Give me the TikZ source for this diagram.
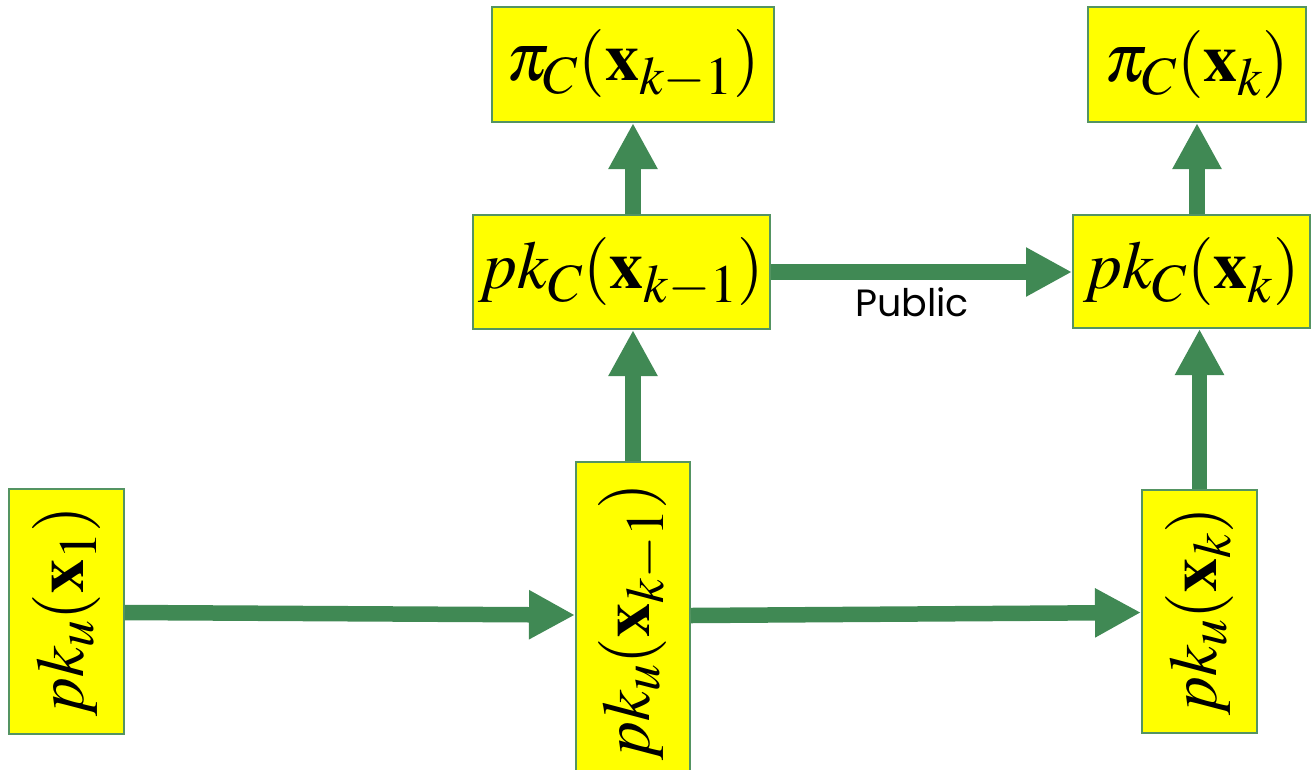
\documentclass[tikz,border=0pt]{standalone}
\usepackage{mathptmx}
\usepackage{fontspec}
\newfontfamily\labelfont{Poppins}
\usetikzlibrary{arrows.meta,calc}

% large key labels with generous subscripts
\DeclareMathSizes{68}{68}{54}{44}

\definecolor{flowgreen}{RGB}{64,137,84}
\definecolor{edgegreen}{RGB}{84,148,98}
\definecolor{boxyellow}{RGB}{255,255,0}

\begin{document}
\begin{tikzpicture}[x=1pt,y=-1pt,
  keybox/.style={draw=edgegreen, line width=2pt, fill=boxyellow, inner sep=0pt,
    font=\fontsize{68}{76}\selectfont},
  flow/.style={draw=flowgreen, line width=15.5pt,
    -{Triangle[width=46pt,length=46pt]}},
  tag/.style={font=\labelfont\fontsize{38}{42}\selectfont}]
  \useasboundingbox (0,0) rectangle (1311,769);

  % top row: projections
  \node[keybox, minimum width=282pt, minimum height=115pt] (A) at (633,64.5)
    {$\pi_C(\mathbf{x}_{k-1})$};
  \node[keybox, minimum width=218pt, minimum height=115pt] (B) at (1197,64.5)
    {$\pi_C(\mathbf{x}_{k})$};

  % middle row: public keys of C
  \node[keybox, minimum width=297pt, minimum height=114pt] (C) at (621.5,272)
    {$pk_C(\mathbf{x}_{k-1})$};
  \node[keybox, minimum width=237pt, minimum height=113pt] (D) at (1191.5,271.5)
    {$pk_C(\mathbf{x}_{k})$};

  % bottom row: user keys, set vertically
  \node[keybox, rotate=90, minimum width=245pt, minimum height=115pt] (E) at (66.5,611.5)
    {$pk_u(\mathbf{x}_{1})$};
  \node[keybox, rotate=90, minimum width=320pt, minimum height=114pt] (F) at (633,622)
    {$pk_u(\mathbf{x}_{k-1})$};
  \node[keybox, rotate=90, minimum width=243pt, minimum height=115pt] (G) at (1199.5,611.5)
    {$pk_u(\mathbf{x}_{k})$};

  % connectors
  \draw[flow] ($(E.south)+(0,1)$) -- ($(F.north)+(0,-7)$);
  \draw[flow] ($(F.south)+(0,-6.5)$) -- ($(G.north)+(0,1)$);
  \draw[flow] (F.east) -- (F.east |- C.south);
  \draw[flow] (A.south |- C.north) -- (A.south);
  \draw[flow] (C.east) -- (C.east -| D.west);
  \draw[flow] (G.east) -- (G.east |- D.south);
  \draw[flow] (B.south |- D.north) -- (B.south);

  \node[tag] (pub) at (912,302) {Public};
\end{tikzpicture}
\end{document}
